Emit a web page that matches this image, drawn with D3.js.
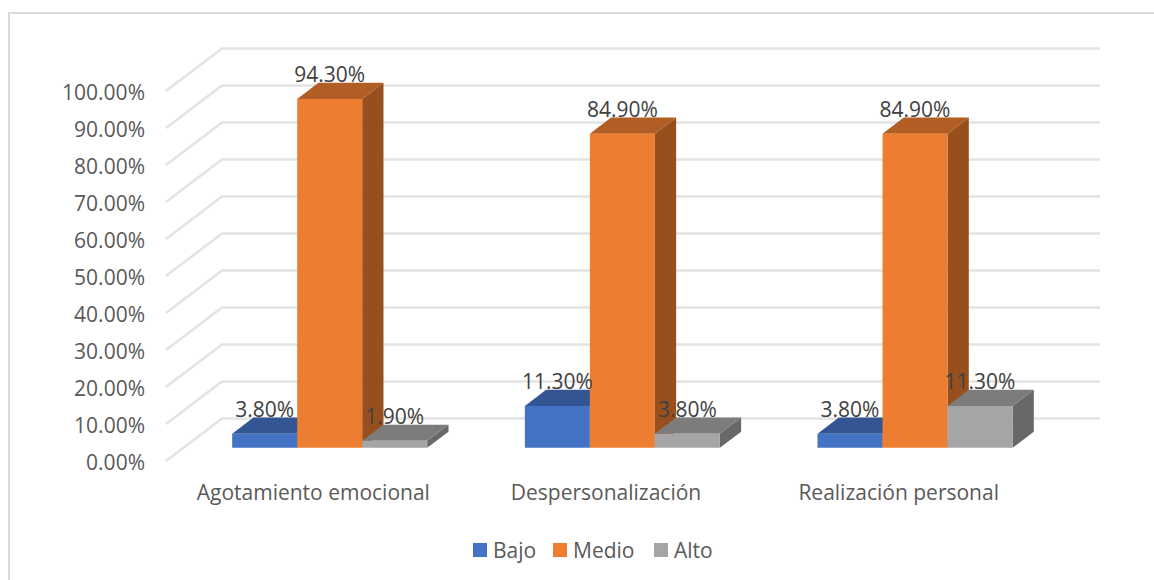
<!DOCTYPE html>
<html>
<head>
<meta charset="utf-8">
<script src="https://cdnjs.cloudflare.com/ajax/libs/d3/7.8.5/d3.min.js"></script>
<style>
  html, body { margin: 0; padding: 0; background: #fff; }
  svg { display: block; }
  text { font-family: "Open Sans", sans-serif; }
</style>
</head>
<body>
<svg id="chart" width="1154" height="580"></svg>
<script>
const categories = ["Agotamiento emocional", "Despersonalización", "Realización personal"];
const seriesNames = ["Bajo", "Medio", "Alto"];
const bajo = [3.8, 11.3, 3.8];
const medio = [94.3, 84.9, 84.9];
const alto = [1.9, 3.8, 11.3];
const seriesValues = [bajo, medio, alto];
const yTicks = [0, 10, 20, 30, 40, 50, 60, 70, 80, 90, 100];

// front, top and side shades of each series
const faceColors = ["#4472c4", "#ed7d31", "#a5a5a5"];
const topColors = ["#335593", "#b15d24", "#7c7c7c"];
const sideColors = ["#2a4679", "#97501d", "#686868"];

const svg = d3.select("#chart");

// frame around the chart area; it runs off the page on the right and at the bottom
svg.append("path")
  .attr("d", "M9,580V13H1154")
  .attr("fill", "none").attr("stroke", "#d9d9d9").attr("stroke-width", 2);

// oblique projection: depth runs from the front edge of the floor to the back wall
const x = d3.scaleBand().domain(categories).range([166, 1044]);
const y = d3.scaleLinear().domain([0, 100]).range([461, 91]);
const depthX = d3.scaleLinear().domain([0, 1]).range([0, 56]);
const depthY = d3.scaleLinear().domain([0, 1]).range([0, -42.5]);
const sub = d3.scaleBand().domain(d3.range(3)).range([-97.5, 97.5]);

const barNear = 0.31, barFar = 0.69;

const pt = (px, v, d) => [px + depthX(d), y(v) + depthY(d)];
const poly = pts => "M" + pts.map(p => p.join(",")).join("L") + "Z";

// gridlines: a diagonal along the side wall, then a run along the back wall
const grid = svg.append("g").attr("fill", "none").attr("stroke", "#e3e3e3").attr("stroke-width", 2.5);
grid.selectAll("path").data(yTicks).join("path")
  .attr("d", v => {
    const a = pt(x.range()[0], v, 0), b = pt(x.range()[0], v, 1), c = pt(x.range()[1], v, 1);
    return `M${a}L${b}L${c}`;
  });

// tick labels
svg.append("g").selectAll("text").data(yTicks).join("text")
  .attr("x", 145).attr("y", v => y(v) + 1.5).attr("dy", "0.35em")
  .attr("text-anchor", "end").attr("font-size", 21).attr("fill", "#595959")
  .text(v => v.toFixed(2) + "%");

// bars, drawn left to right so each one hides the side face of its left neighbour
const bars = [];
categories.forEach((c, ci) => {
  seriesValues.forEach((vals, si) => {
    bars.push({ c, si, value: vals[ci] });
  });
});

const barG = svg.append("g");
bars.forEach(b => {
  const left = x(b.c) + x.bandwidth() / 2 + sub(b.si);
  const right = left + sub.bandwidth();
  const g = barG.append("g");
  g.append("path").attr("fill", sideColors[b.si]).attr("d", poly([
    pt(right, 0, barNear), pt(right, 0, barFar), pt(right, b.value, barFar), pt(right, b.value, barNear)
  ]));
  g.append("path").attr("fill", topColors[b.si]).attr("d", poly([
    pt(left, b.value, barNear), pt(left, b.value, barFar), pt(right, b.value, barFar), pt(right, b.value, barNear)
  ]));
  g.append("path").attr("fill", faceColors[b.si]).attr("d", poly([
    pt(left, 0, barNear), pt(right, 0, barNear), pt(right, b.value, barNear), pt(left, b.value, barNear)
  ]));
});

// value labels sit above the top face of each bar, centred on its front face
const labels = svg.append("g");
bars.forEach(b => {
  const left = x(b.c) + x.bandwidth() / 2 + sub(b.si);
  const [tx] = pt(left + sub.bandwidth() / 2, b.value, barNear);
  const [, ty] = pt(left, b.value, barFar);
  labels.append("text")
    .attr("x", tx)
    .attr("y", ty - 1)
    .attr("text-anchor", "middle").attr("font-size", 21).attr("fill", "#404040")
    .text(b.value.toFixed(2) + "%");
});

// category labels
svg.append("g").selectAll("text").data(categories).join("text")
  .attr("x", c => x(c) + x.bandwidth() / 2 + 1).attr("y", 500)
  .attr("text-anchor", "middle").attr("font-size", 21).attr("fill", "#595959")
  .text(c => c);

// legend
const legendX = [473, 553, 654];
const legend = svg.append("g");
seriesNames.forEach((name, i) => {
  legend.append("rect").attr("x", legendX[i]).attr("y", 543)
    .attr("width", 14).attr("height", 14).attr("fill", faceColors[i]);
  legend.append("text").attr("x", legendX[i] + 20).attr("y", 558)
    .attr("font-size", 21).attr("fill", "#595959").text(name);
});
</script>
</body>
</html>
